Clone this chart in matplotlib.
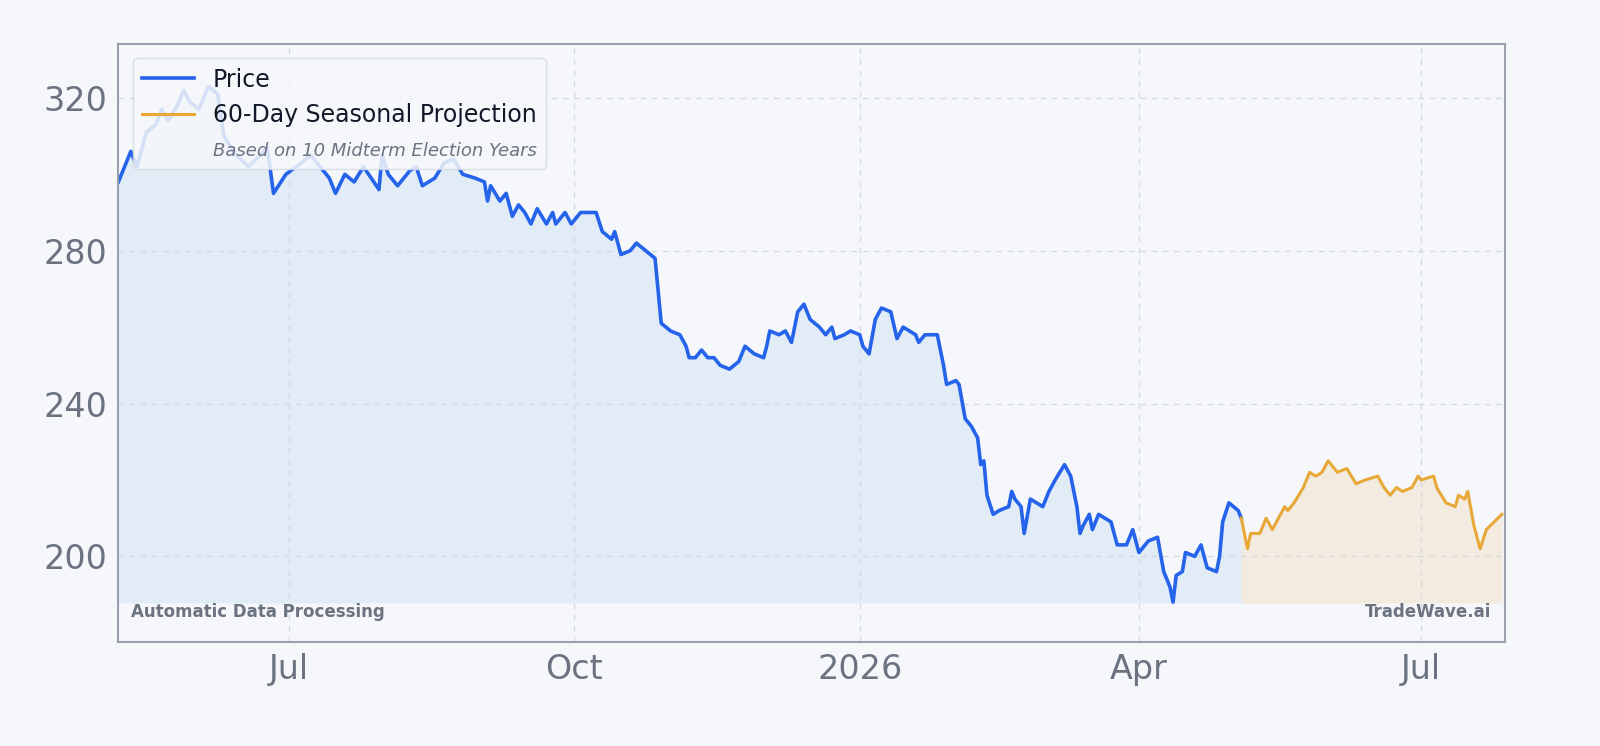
import matplotlib
matplotlib.use("Agg")
import matplotlib.pyplot as plt
import matplotlib.dates as mdates
from matplotlib.lines import Line2D
import numpy as np
import pandas as pd

start = pd.Timestamp("2025-05-07")
price_days = [0,4,6,9,12,14,16,19,21,23,26,29,32,34,38,42,48,50,54,59,62,65,68,70,73,76,79,84,85,87,90,94,96,98,102,105,108,111,115,118,119,120,123,125,127,129,131,133,135,138,140,141,144,146,149,154,156,159,160,162,165,167,170,173,175,178,181,183,184,186,188,190,192,194,197,200,202,205,208,209,210,213,215,217,219,221,223,226,228,230,231,234,236,239,240,242,244,246,249,251,253,255,257,258,260,264,266,267,270,271,273,275,277,278,279,280,282,284,287,288,289,291,292,294,296,298,300,302,305,307,309,310,311,313,314,316,318,320,322,325,327,329,332,335,337,339,340,341,343,344,347,349,351,354,355,356,358,361,362]
price_vals = [298,306,302,311,313,317,314,318,322,319,317,323,321,310,305,302,307,295,300,303,305,302,299,295,300,298,302,296,305,300,297,301,302,297,299,303,304,300,299,298,293,297,293,295,289,292,290,287,291,287,290,287,290,287,290,290,285,283,285,279,280,282,280,278,261,259,258,255,252,252,254,252,252,250,249,251,255,253,252,255,259,258,259,256,264,266,262,260,258,260,257,258,259,258,255,253,262,265,264,257,260,259,258,256,258,258,250,245,246,245,236,234,231,224,225,216,211,212,213,217,215,213,206,215,214,213,217,220,224,221,213,206,208,211,207,211,210,209,203,203,207,201,204,205,196,192,188,195,196,201,200,203,197,196,200,209,214,212,210]
proj_days = [362,364,365,368,370,372,374,376,377,379,382,384,386,388,390,393,396,399,402,406,408,410,412,414,417,419,420,424,425,428,431,432,434,435,437,439,441,446]
proj_vals = [210,202,206,206,210,207,210,213,212,214,218,222,221,222,225,222,223,219,220,221,218,216,218,217,218,221,220,221,218,214,213,216,215,217,208,202,207,211]

pd_dates = start + pd.to_timedelta(price_days, unit="D")
pj_dates = start + pd.to_timedelta(proj_days, unit="D")

bg = "#f5f7fa"
fig = plt.figure(figsize=(16, 7.46), dpi=100, facecolor=bg)
ax = fig.add_axes([0.074, 0.139, 0.8666, 0.802])
ax.set_facecolor(bg)
base = 187.8
ax.fill_between(pd_dates, price_vals, base, color="#dbe8f7", alpha=0.7, lw=0)
ax.fill_between(pj_dates, proj_vals, base, color="#f3e8d9", alpha=0.8, lw=0)
ax.plot(pd_dates, price_vals, color="#2563eb", lw=2.6)
ax.plot(pj_dates, proj_vals, color="#e8a838", lw=2.2)

ax.set_xlim(pd.Timestamp("2025-05-07"), pd.Timestamp("2026-07-28"))
ax.set_ylim(177.5, 334.1)
ax.set_yticks([200, 240, 280, 320])
ticks = [pd.Timestamp(t) for t in ["2025-07-01", "2025-10-01", "2026-01-01", "2026-04-01", "2026-07-01"]]
ax.set_xticks(ticks)
ax.set_xticklabels(["Jul", "Oct", "2026", "Apr", "Jul"])
ax.tick_params(labelsize=24, colors="#6b7280", length=0, pad=8)
ax.grid(True, color="#d5dae1", ls=(0, (4, 4)), lw=1)
for s in ax.spines.values():
    s.set_color("#9aa0ad"); s.set_linewidth(1.5)

handles = [Line2D([], [], color="#2563eb", lw=2.6),
           Line2D([], [], color="#e8a838", lw=2.2),
           Line2D([], [], color="none")]
leg = ax.legend(handles, ["Price", "60-Day Seasonal Projection", "Based on 10 Midterm Election Years"],
                loc="upper left", fontsize=17, frameon=True, facecolor=bg, edgecolor="#d5dae1",
                framealpha=0.85, borderaxespad=0.6, handlelength=2.2)
t = leg.get_texts()[2]
t.set_fontsize(13); t.set_style("italic"); t.set_color("#6b7280")
for tt in leg.get_texts()[:2]:
    tt.set_color("#111827")

ax.text(0.009, 0.035, "Automatic Data Processing", transform=ax.transAxes, fontsize=12,
        fontweight="bold", color="#6b7280", va="bottom", ha="left")
ax.text(0.99, 0.035, "TradeWave.ai", transform=ax.transAxes, fontsize=12,
        fontweight="bold", color="#6b7280", va="bottom", ha="right")
fig.savefig("out.png", dpi=100, facecolor=bg)
